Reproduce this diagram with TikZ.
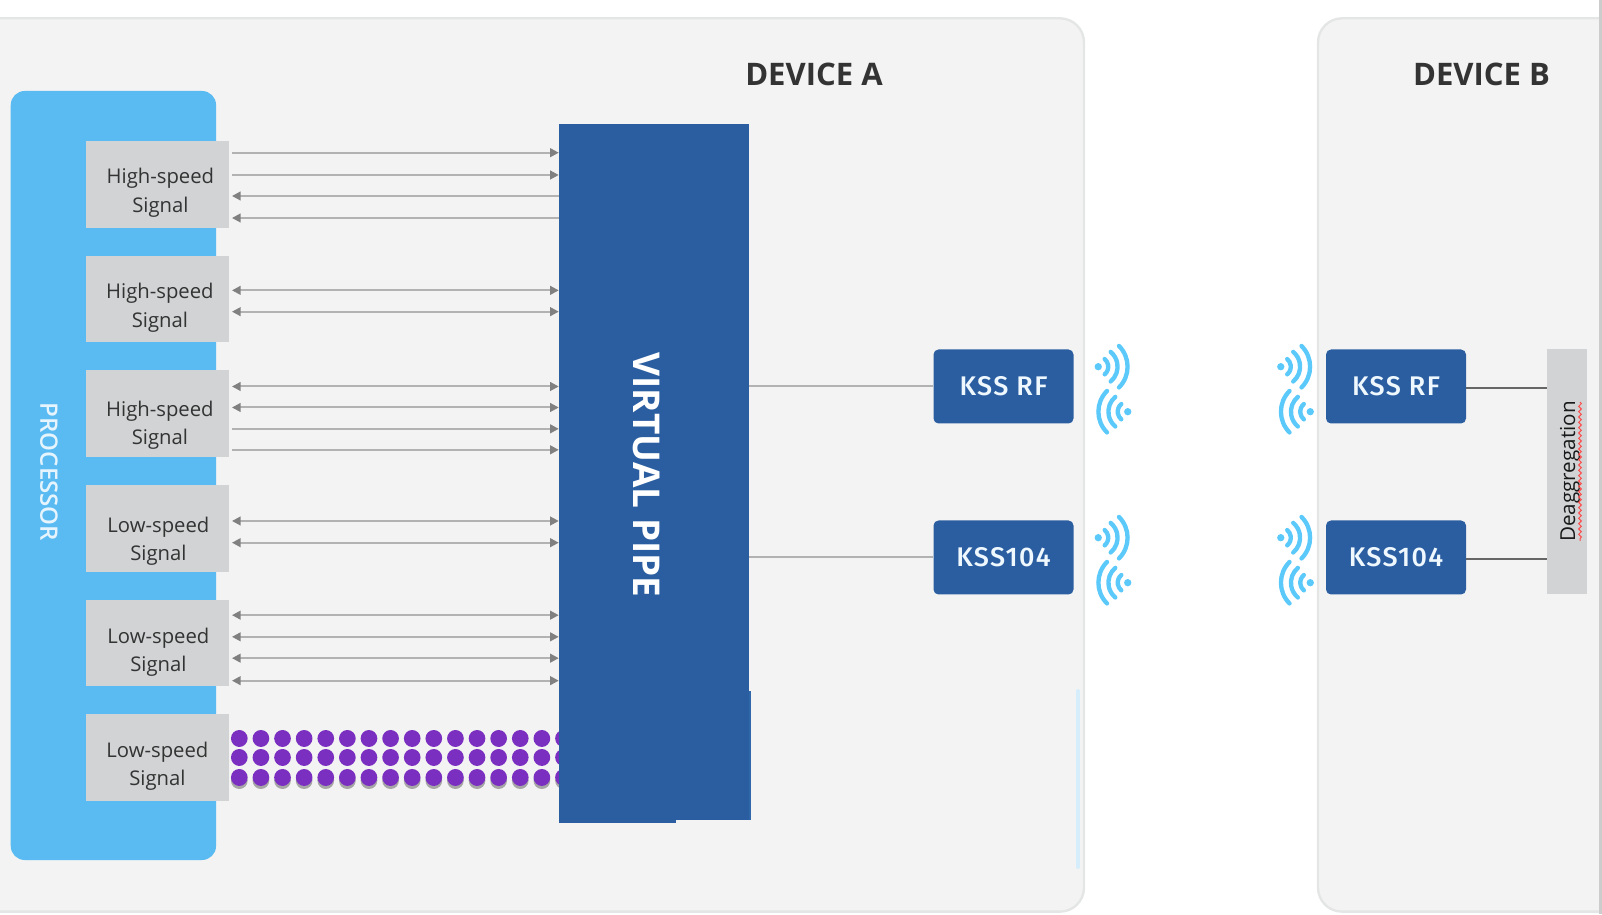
\documentclass[tikz,border=0pt]{standalone}
\usepackage{fontspec}
\setmainfont{Open Sans}
\newfontfamily\kssfont[LetterSpace=5]{Fira Sans Medium}
\newfontfamily\midfont{Open Sans Semibold}
\usetikzlibrary{arrows.meta,decorations.pathmorphing}

\definecolor{panelgray}{HTML}{F3F3F3}
\definecolor{paneledge}{HTML}{E4E5E5}
\definecolor{procblue}{HTML}{5ABBF2}
\definecolor{pipeblue}{HTML}{2B5EA1}
\definecolor{boxgray}{HTML}{D1D3D4}
\definecolor{wifiblue}{HTML}{5CC9FB}
\definecolor{dotpurple}{HTML}{7B2FC0}

% text of a signal box: x offset, y offset, two lines
\newcommand{\sigtext}[4]{\raisebox{#2}[0pt][0pt]{\makebox[0pt]{\hspace*{#1}\begin{tabular}{@{}c@{}}#3\\#4\end{tabular}}}}

\begin{document}
\begin{tikzpicture}[panel/.style={rectangle,
					rounded corners=0.72cm,
					line width=2pt,
					minimum width=33.42cm,
					minimum height=26.8cm,
					draw=paneledge,
					fill=panelgray},
					titlenode/.style={font=\bfseries\fontsize{26.5}{26.5}\selectfont,
					text=black!80},
					signode/.style={rectangle,
					minimum width=4.3cm,
					minimum height=2.6cm,
					inner sep=0pt,
					fill=boxgray,
					text=black!80,
					font=\fontsize{17.3}{24}\selectfont},
					kssnode/.style={rectangle,
					rounded corners=0.15cm,
					minimum width=4.2cm,
					minimum height=2.22cm,
					fill=pipeblue,
					text=white!90!procblue,
					font=\kssfont\fontsize{23}{23}\selectfont},
					sigboth/.style={{Triangle[length=0.26cm,width=0.26cm,color=black!50]}-{Triangle[length=0.26cm,width=0.26cm,color=black!50]},
					line width=0.06cm, draw=black!30, shorten <=0.08cm},
					sigright/.style={-{Triangle[length=0.26cm,width=0.26cm,color=black!50]},
					line width=0.06cm, draw=black!30, shorten <=0.08cm},
					sigleft/.style={{Triangle[length=0.26cm,width=0.26cm,color=black!50]}-,
					line width=0.06cm, draw=black!30, shorten <=0.08cm},
					dotrow/.style={line width=0.5cm, line cap=round, draw=dotpurple,
					dash pattern=on 0.01pt off 0.648cm, shorten <=0.3cm},
					dotshade/.style={dotrow, draw=black!35},
					wifiarc/.style={line width=0.13cm, line cap=round, draw=wifiblue},
					wifisig/.pic={
						\fill[wifiblue] (0,0) circle (0.11cm);
						\draw[wifiarc] (-50:0.3) arc (-50:50:0.3);
						\draw[wifiarc] (-50:0.58) arc (-50:50:0.58);
						\draw[wifiarc] (-45:0.88) arc (-45:45:0.88);
					}
					]

\useasboundingbox (0,0) rectangle (48.06,27.42);

%device panels
\node[panel]  (DevA) at (15.81,13.47) {};
\node[panel, minimum width=9.66cm]  (DevB) at (44.37,13.47) {};
\fill[black!20] (47.97,0) rectangle (48.06,27.42);

\node[titlenode]  (TitleA) at (24.42,25.18) {DEVICE A};
\node[titlenode]  (TitleB) [right of = TitleA, node distance = 20.025cm] {DEVICE B};

%processor
\node[rectangle, rounded corners=0.42cm, minimum width=6.16cm, minimum height=23.07cm, fill=procblue]  (Proc) at (3.402,13.155) {};
\node[rotate=-90, text=white!85!procblue, font=\midfont\fontsize{20.5}{20.5}\selectfont]  (ProcText) at (1.47,13.26) {PROCESSOR};

% signal boxes
\node[signode]  (HighA) at (4.722,21.885) {\sigtext{0.18cm}{-0.39cm}{High-speed}{Signal}};
\node[signode]  (HighB) [below of = HighA, node distance = 3.44cm] {\sigtext{0.15cm}{-0.40cm}{High-speed}{Signal}};
\node[signode]  (HighC) [below of = HighB, node distance = 3.44cm] {\sigtext{0.15cm}{-0.48cm}{High-speed}{Signal}};
\node[signode]  (LowA) [below of = HighC, node distance = 3.44cm] {\sigtext{0.06cm}{-0.51cm}{Low-speed}{Signal}};
\node[signode]  (LowB) [below of = LowA, node distance = 3.44cm] {\sigtext{0.06cm}{-0.40cm}{Low-speed}{Signal}};
\node[signode]  (LowC) [below of = LowB, node distance = 3.44cm] {\sigtext{0cm}{-0.39cm}{Low-speed}{Signal}};

% pipe
\node[rectangle, minimum width=5.7cm, minimum height=20.88cm, inner sep=0pt, fill=pipeblue]  (Pipe) at (19.62,13.26) {};
\fill[pipeblue] (Pipe.south west) rectangle ++(3.51cm,-0.09cm);
\fill[pipeblue!90!procblue] (Pipe.south east) rectangle ++(0.06cm,3.87cm);
\node[rotate=-90, text=white, font=\bfseries\fontsize{31.5}{31.5}\selectfont]  (PipeText) at (19.4,13.17) {VIRTUAL PIPE};

% kss boxes
\node[kssnode]  (RfA) at (30.105,15.825) {KSS RF};
\node[kssnode]  (KssA) [below of = RfA, node distance = 5.13cm] {KSS104};
\node[kssnode]  (RfB) [right of = RfA, node distance = 11.775cm] {KSS RF};
\node[kssnode]  (KssB) [below of = RfB, node distance = 5.13cm] {KSS104};

\node[rectangle, rotate=90, minimum width=7.35cm, minimum height=1.2cm, fill=boxgray, text=black!90, font=\fontsize{17.6}{17.6}\selectfont]  (Deagg) at (47.01,13.275) {\raisebox{-0.24cm}[0pt][0pt]{Deaggregation}};

% Arrows
\draw [sigright] ([yshift=0.954cm]HighA.east) -- ([yshift=0.954cm]HighA.east -| Pipe.west);
\draw [sigright] ([yshift=0.285cm]HighA.east) -- ([yshift=0.285cm]HighA.east -| Pipe.west);
\draw [sigleft] ([yshift=-0.345cm]HighA.east) -- ([yshift=-0.345cm]HighA.east -| Pipe.west);
\draw [sigleft] ([yshift=-1.005cm]HighA.east) -- ([yshift=-1.005cm]HighA.east -| Pipe.west);

\draw [sigboth] ([yshift=0.264cm]HighB.east) -- ([yshift=0.264cm]HighB.east -| Pipe.west);
\draw [sigboth] ([yshift=-0.375cm]HighB.east) -- ([yshift=-0.375cm]HighB.east -| Pipe.west);

\draw [sigboth] ([yshift=0.82cm]HighC.east) -- ([yshift=0.82cm]HighC.east -| Pipe.west);
\draw [sigboth] ([yshift=0.19cm]HighC.east) -- ([yshift=0.19cm]HighC.east -| Pipe.west);
\draw [sigright] ([yshift=-0.45cm]HighC.east) -- ([yshift=-0.45cm]HighC.east -| Pipe.west);
\draw [sigright] ([yshift=-1.08cm]HighC.east) -- ([yshift=-1.08cm]HighC.east -| Pipe.west);

\draw [sigboth] ([yshift=0.225cm]LowA.east) -- ([yshift=0.225cm]LowA.east -| Pipe.west);
\draw [sigboth] ([yshift=-0.426cm]LowA.east) -- ([yshift=-0.426cm]LowA.east -| Pipe.west);

\draw [sigboth] ([yshift=0.84cm]LowB.east) -- ([yshift=0.84cm]LowB.east -| Pipe.west);
\draw [sigboth] ([yshift=0.19cm]LowB.east) -- ([yshift=0.19cm]LowB.east -| Pipe.west);
\draw [sigboth] ([yshift=-0.45cm]LowB.east) -- ([yshift=-0.45cm]LowB.east -| Pipe.west);
\draw [sigboth] ([yshift=-1.125cm]LowB.east) -- ([yshift=-1.125cm]LowB.east -| Pipe.west);

% dotted rows, cut off at the pipe
\begin{scope}
\clip (LowC.north east) rectangle (LowC.south east -| Pipe.west);
\draw [dotshade] ([yshift=-0.69cm]LowC.east) -- ([yshift=-0.69cm]LowC.east -| Pipe.center);
\draw [dotrow] ([yshift=0.585cm]LowC.east) -- ([yshift=0.585cm]LowC.east -| Pipe.center);
\draw [dotrow] ([yshift=0.015cm]LowC.east) -- ([yshift=0.015cm]LowC.east -| Pipe.center);
\draw [dotrow] ([yshift=-0.585cm]LowC.east) -- ([yshift=-0.585cm]LowC.east -| Pipe.center);
\end{scope}

% pipe to kss
\draw [line width=0.06cm, black!30] (RfA.west -| Pipe.east) -- (RfA.west);
\draw [line width=0.06cm, black!30] (KssA.west -| Pipe.east) -- (KssA.west);
\draw [line width=0.07cm, black!60] ([yshift=-0.05cm]RfB.east) -- ([yshift=-0.05cm]RfB.east -| Deagg.north);
\draw [line width=0.07cm, black!60] ([yshift=-0.05cm]KssB.east) -- ([yshift=-0.05cm]KssB.east -| Deagg.north);

% spell check wave
\draw [red!70, line width=0.03cm, decorate, decoration={snake, amplitude=0.04cm, segment length=0.16cm}] ([shift={(0.39cm,2.085cm)}]Deagg.center) -- ([shift={(0.39cm,-2.085cm)}]Deagg.center);

% radio signs
\pic at ([xshift=0.735cm, yshift=0.594cm]RfA.east) {wifisig};
\pic[rotate=180] at ([xshift=1.62cm, yshift=-0.756cm]RfA.east) {wifisig};
\pic at ([xshift=0.735cm, yshift=0.594cm]KssA.east) {wifisig};
\pic[rotate=180] at ([xshift=1.62cm, yshift=-0.756cm]KssA.east) {wifisig};

\pic at ([xshift=-1.35cm, yshift=0.594cm]RfB.west) {wifisig};
\pic[rotate=180] at ([xshift=-0.465cm, yshift=-0.756cm]RfB.west) {wifisig};
\pic at ([xshift=-1.35cm, yshift=0.594cm]KssB.west) {wifisig};
\pic[rotate=180] at ([xshift=-0.465cm, yshift=-0.756cm]KssB.west) {wifisig};

% faint streak on the panel edge
\draw [line width=0.1cm, procblue!25, line cap=round] (32.34,6.7) -- (32.34,1.4);

\end{tikzpicture}
\end{document}
